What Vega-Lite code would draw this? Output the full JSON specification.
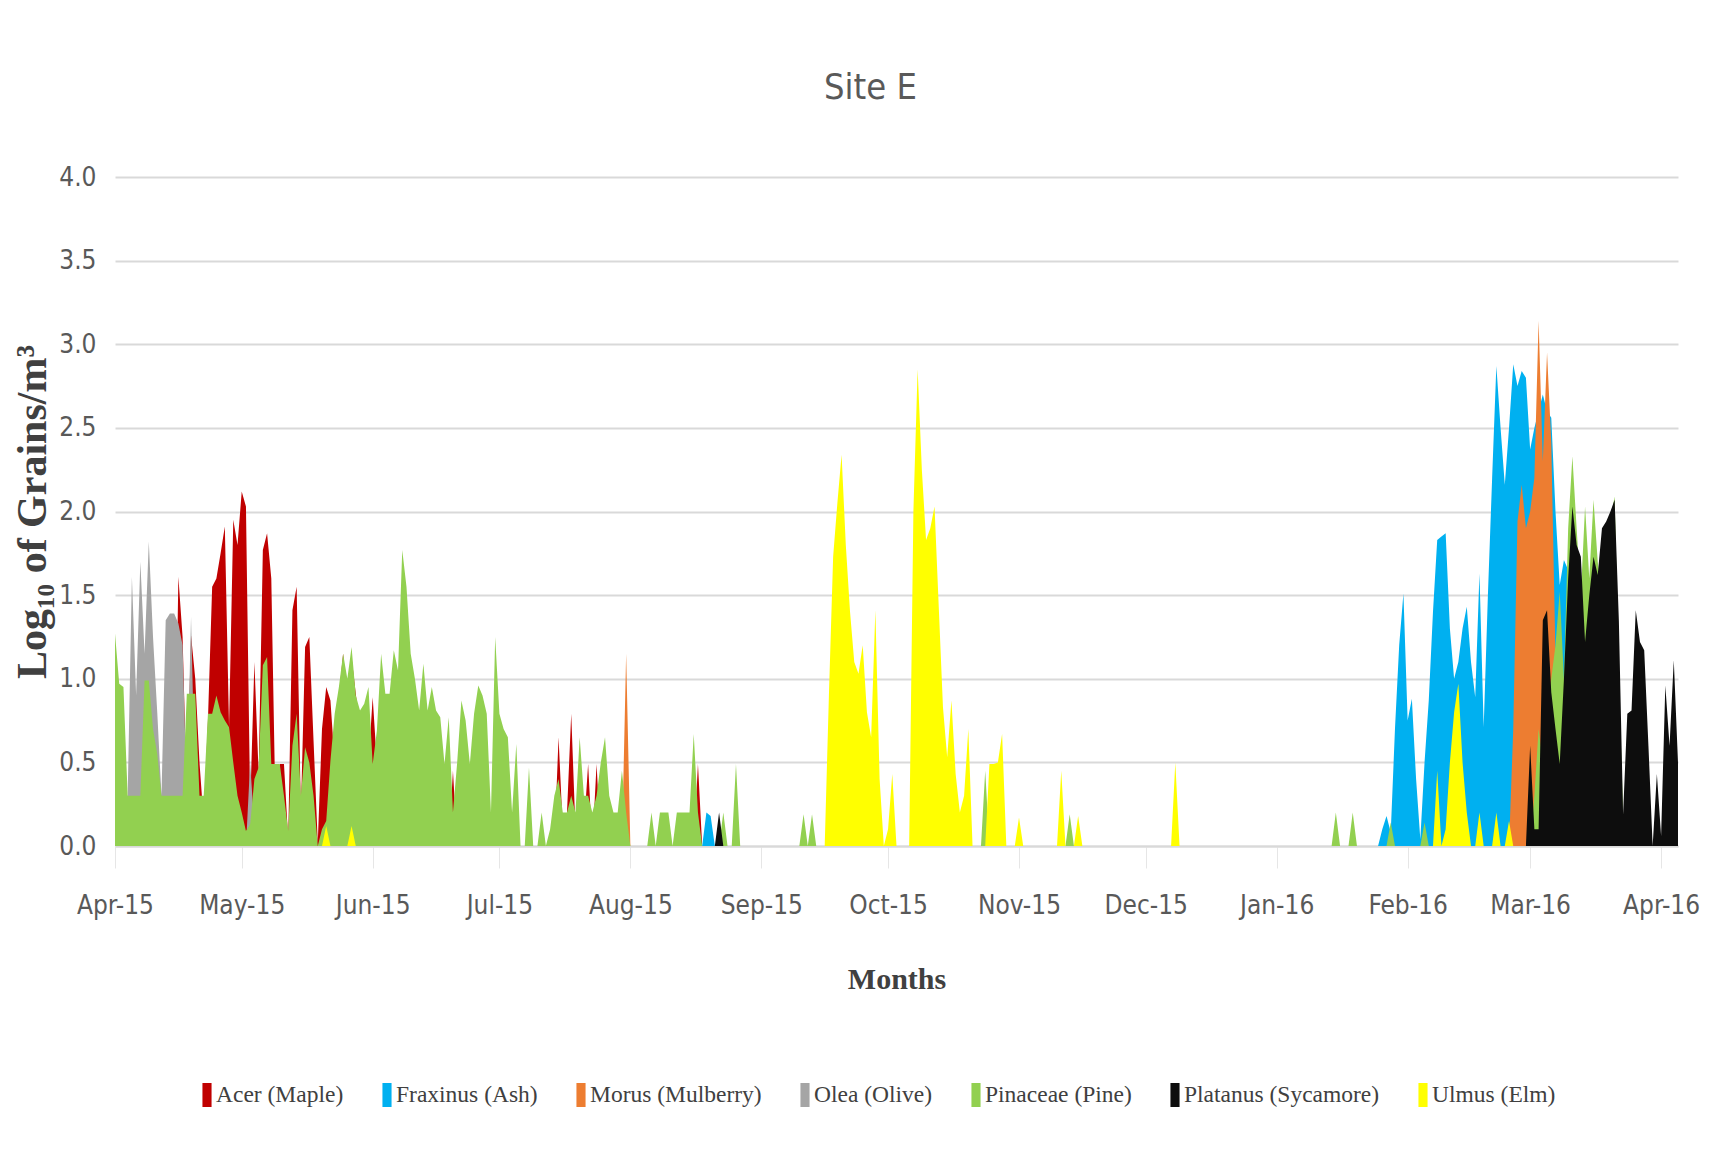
{
"$schema":"https://vega.github.io/schema/vega-lite/v6.json",
"width":1563,"height":669,
"autosize":{"type":"none"},
"padding":{"left":115,"top":177,"right":38,"bottom":310},
"background":"white",
"title":{"text":"Site E","fontSize":36,"font":"Liberation Sans Narrow, DejaVu Sans Condensed, sans-serif","color":"#595959","fontWeight":"normal","offset":57,"dx":-26},
"data":{"values":[
{"d":"2015-04-15","s":"Acer (Maple)","v":0},{"d":"2015-04-16","s":"Acer (Maple)","v":1.61},{"d":"2015-04-17","s":"Acer (Maple)","v":1.25},{"d":"2015-04-18","s":"Acer (Maple)","v":0.3},{"d":"2015-04-19","s":"Acer (Maple)","v":1.26},{"d":"2015-04-20","s":"Acer (Maple)","v":1.0},{"d":"2015-04-21","s":"Acer (Maple)","v":0.5},{"d":"2015-04-22","s":"Acer (Maple)","v":0.15},{"d":"2015-04-23","s":"Acer (Maple)","v":0.75},{"d":"2015-04-24","s":"Acer (Maple)","v":1.55},{"d":"2015-04-25","s":"Acer (Maple)","v":1.6},{"d":"2015-04-26","s":"Acer (Maple)","v":1.75},{"d":"2015-04-27","s":"Acer (Maple)","v":1.91},{"d":"2015-04-28","s":"Acer (Maple)","v":0.71},{"d":"2015-04-29","s":"Acer (Maple)","v":1.95},{"d":"2015-04-30","s":"Acer (Maple)","v":1.8},{"d":"2015-05-01","s":"Acer (Maple)","v":2.12},{"d":"2015-05-02","s":"Acer (Maple)","v":2.03},{"d":"2015-05-03","s":"Acer (Maple)","v":0.24},{"d":"2015-05-04","s":"Acer (Maple)","v":1.1},{"d":"2015-05-05","s":"Acer (Maple)","v":0.43},{"d":"2015-05-06","s":"Acer (Maple)","v":1.77},{"d":"2015-05-07","s":"Acer (Maple)","v":1.87},{"d":"2015-05-08","s":"Acer (Maple)","v":1.6},{"d":"2015-05-09","s":"Acer (Maple)","v":0.2},{"d":"2015-05-10","s":"Acer (Maple)","v":0.49},{"d":"2015-05-11","s":"Acer (Maple)","v":0.49},{"d":"2015-05-12","s":"Acer (Maple)","v":0.04},{"d":"2015-05-13","s":"Acer (Maple)","v":1.41},{"d":"2015-05-14","s":"Acer (Maple)","v":1.55},{"d":"2015-05-15","s":"Acer (Maple)","v":0.2},{"d":"2015-05-16","s":"Acer (Maple)","v":1.19},{"d":"2015-05-17","s":"Acer (Maple)","v":1.25},{"d":"2015-05-18","s":"Acer (Maple)","v":0.63},{"d":"2015-05-19","s":"Acer (Maple)","v":0.02},{"d":"2015-05-20","s":"Acer (Maple)","v":0.7},{"d":"2015-05-21","s":"Acer (Maple)","v":0.95},{"d":"2015-05-22","s":"Acer (Maple)","v":0.87},{"d":"2015-05-23","s":"Acer (Maple)","v":0.5},{"d":"2015-05-24","s":"Acer (Maple)","v":0.9},{"d":"2015-05-25","s":"Acer (Maple)","v":1.15},{"d":"2015-05-26","s":"Acer (Maple)","v":0.87},{"d":"2015-05-27","s":"Acer (Maple)","v":1.13},{"d":"2015-05-28","s":"Acer (Maple)","v":0.91},{"d":"2015-05-29","s":"Acer (Maple)","v":0.7},{"d":"2015-05-30","s":"Acer (Maple)","v":0.6},{"d":"2015-05-31","s":"Acer (Maple)","v":0.49},{"d":"2015-06-01","s":"Acer (Maple)","v":0.89},{"d":"2015-06-02","s":"Acer (Maple)","v":0.49},{"d":"2015-06-03","s":"Acer (Maple)","v":0},{"d":"2015-06-19","s":"Acer (Maple)","v":0},{"d":"2015-06-20","s":"Acer (Maple)","v":0.45},{"d":"2015-06-21","s":"Acer (Maple)","v":0},{"d":"2015-07-14","s":"Acer (Maple)","v":0},{"d":"2015-07-15","s":"Acer (Maple)","v":0.65},{"d":"2015-07-16","s":"Acer (Maple)","v":0.1},{"d":"2015-07-17","s":"Acer (Maple)","v":0.2},{"d":"2015-07-18","s":"Acer (Maple)","v":0.79},{"d":"2015-07-19","s":"Acer (Maple)","v":0.1},{"d":"2015-07-20","s":"Acer (Maple)","v":0},{"d":"2015-07-21","s":"Acer (Maple)","v":0.1},{"d":"2015-07-22","s":"Acer (Maple)","v":0.49},{"d":"2015-07-23","s":"Acer (Maple)","v":0},{"d":"2015-07-24","s":"Acer (Maple)","v":0.49},{"d":"2015-07-25","s":"Acer (Maple)","v":0},{"d":"2015-08-16","s":"Acer (Maple)","v":0},{"d":"2015-08-17","s":"Acer (Maple)","v":0.49},{"d":"2015-08-18","s":"Acer (Maple)","v":0},
{"d":"2015-08-18","s":"Fraxinus (Ash)","v":0},{"d":"2015-08-19","s":"Fraxinus (Ash)","v":0.2},{"d":"2015-08-20","s":"Fraxinus (Ash)","v":0.18},{"d":"2015-08-21","s":"Fraxinus (Ash)","v":0},{"d":"2016-01-25","s":"Fraxinus (Ash)","v":0},{"d":"2016-01-26","s":"Fraxinus (Ash)","v":0.1},{"d":"2016-01-27","s":"Fraxinus (Ash)","v":0.18},{"d":"2016-01-28","s":"Fraxinus (Ash)","v":0.08},{"d":"2016-01-29","s":"Fraxinus (Ash)","v":0.7},{"d":"2016-01-30","s":"Fraxinus (Ash)","v":1.2},{"d":"2016-01-31","s":"Fraxinus (Ash)","v":1.51},{"d":"2016-02-01","s":"Fraxinus (Ash)","v":0.75},{"d":"2016-02-02","s":"Fraxinus (Ash)","v":0.88},{"d":"2016-02-03","s":"Fraxinus (Ash)","v":0.4},{"d":"2016-02-04","s":"Fraxinus (Ash)","v":0.04},{"d":"2016-02-05","s":"Fraxinus (Ash)","v":0.5},{"d":"2016-02-06","s":"Fraxinus (Ash)","v":0.87},{"d":"2016-02-07","s":"Fraxinus (Ash)","v":1.4},{"d":"2016-02-08","s":"Fraxinus (Ash)","v":1.83},{"d":"2016-02-09","s":"Fraxinus (Ash)","v":1.85},{"d":"2016-02-10","s":"Fraxinus (Ash)","v":1.87},{"d":"2016-02-11","s":"Fraxinus (Ash)","v":1.3},{"d":"2016-02-12","s":"Fraxinus (Ash)","v":1.0},{"d":"2016-02-13","s":"Fraxinus (Ash)","v":1.1},{"d":"2016-02-14","s":"Fraxinus (Ash)","v":1.3},{"d":"2016-02-15","s":"Fraxinus (Ash)","v":1.43},{"d":"2016-02-16","s":"Fraxinus (Ash)","v":1.1},{"d":"2016-02-17","s":"Fraxinus (Ash)","v":0.89},{"d":"2016-02-18","s":"Fraxinus (Ash)","v":1.63},{"d":"2016-02-19","s":"Fraxinus (Ash)","v":0.71},{"d":"2016-02-20","s":"Fraxinus (Ash)","v":1.5},{"d":"2016-02-21","s":"Fraxinus (Ash)","v":2.2},{"d":"2016-02-22","s":"Fraxinus (Ash)","v":2.87},{"d":"2016-02-23","s":"Fraxinus (Ash)","v":2.5},{"d":"2016-02-24","s":"Fraxinus (Ash)","v":2.16},{"d":"2016-02-25","s":"Fraxinus (Ash)","v":2.5},{"d":"2016-02-26","s":"Fraxinus (Ash)","v":2.88},{"d":"2016-02-27","s":"Fraxinus (Ash)","v":2.75},{"d":"2016-02-28","s":"Fraxinus (Ash)","v":2.84},{"d":"2016-02-29","s":"Fraxinus (Ash)","v":2.8},{"d":"2016-03-01","s":"Fraxinus (Ash)","v":2.37},{"d":"2016-03-02","s":"Fraxinus (Ash)","v":2.5},{"d":"2016-03-03","s":"Fraxinus (Ash)","v":2.6},{"d":"2016-03-04","s":"Fraxinus (Ash)","v":2.7},{"d":"2016-03-05","s":"Fraxinus (Ash)","v":2.6},{"d":"2016-03-06","s":"Fraxinus (Ash)","v":2.56},{"d":"2016-03-07","s":"Fraxinus (Ash)","v":2.0},{"d":"2016-03-08","s":"Fraxinus (Ash)","v":1.56},{"d":"2016-03-09","s":"Fraxinus (Ash)","v":1.71},{"d":"2016-03-10","s":"Fraxinus (Ash)","v":1.65},{"d":"2016-03-11","s":"Fraxinus (Ash)","v":1.2},{"d":"2016-03-12","s":"Fraxinus (Ash)","v":0.5},{"d":"2016-03-13","s":"Fraxinus (Ash)","v":0},
{"d":"2015-07-30","s":"Morus (Mulberry)","v":0},{"d":"2015-07-31","s":"Morus (Mulberry)","v":1.15},{"d":"2015-08-01","s":"Morus (Mulberry)","v":0},{"d":"2016-02-25","s":"Morus (Mulberry)","v":0},{"d":"2016-02-26","s":"Morus (Mulberry)","v":0.7},{"d":"2016-02-27","s":"Morus (Mulberry)","v":1.94},{"d":"2016-02-28","s":"Morus (Mulberry)","v":2.16},{"d":"2016-02-29","s":"Morus (Mulberry)","v":1.9},{"d":"2016-03-01","s":"Morus (Mulberry)","v":2.0},{"d":"2016-03-02","s":"Morus (Mulberry)","v":2.2},{"d":"2016-03-03","s":"Morus (Mulberry)","v":3.14},{"d":"2016-03-04","s":"Morus (Mulberry)","v":2.3},{"d":"2016-03-05","s":"Morus (Mulberry)","v":2.95},{"d":"2016-03-06","s":"Morus (Mulberry)","v":2.41},{"d":"2016-03-07","s":"Morus (Mulberry)","v":1.13},{"d":"2016-03-08","s":"Morus (Mulberry)","v":0.7},{"d":"2016-03-09","s":"Morus (Mulberry)","v":0},
{"d":"2015-04-02","s":"Olea (Olive)","v":0},{"d":"2015-04-03","s":"Olea (Olive)","v":0.3},{"d":"2015-04-04","s":"Olea (Olive)","v":0.3},{"d":"2015-04-05","s":"Olea (Olive)","v":1.61},{"d":"2015-04-06","s":"Olea (Olive)","v":0.9},{"d":"2015-04-07","s":"Olea (Olive)","v":1.7},{"d":"2015-04-08","s":"Olea (Olive)","v":1.15},{"d":"2015-04-09","s":"Olea (Olive)","v":1.82},{"d":"2015-04-10","s":"Olea (Olive)","v":1.25},{"d":"2015-04-11","s":"Olea (Olive)","v":0.8},{"d":"2015-04-12","s":"Olea (Olive)","v":0.3},{"d":"2015-04-13","s":"Olea (Olive)","v":1.35},{"d":"2015-04-14","s":"Olea (Olive)","v":1.39},{"d":"2015-04-15","s":"Olea (Olive)","v":1.39},{"d":"2015-04-16","s":"Olea (Olive)","v":1.33},{"d":"2015-04-17","s":"Olea (Olive)","v":1.2},{"d":"2015-04-18","s":"Olea (Olive)","v":0.3},{"d":"2015-04-19","s":"Olea (Olive)","v":1.37},{"d":"2015-04-20","s":"Olea (Olive)","v":0.3},{"d":"2015-04-21","s":"Olea (Olive)","v":0.1},{"d":"2015-04-22","s":"Olea (Olive)","v":0},{"d":"2015-05-02","s":"Olea (Olive)","v":0},{"d":"2015-05-03","s":"Olea (Olive)","v":0.5},{"d":"2015-05-04","s":"Olea (Olive)","v":0.1},{"d":"2015-05-05","s":"Olea (Olive)","v":0},
{"d":"2015-04-01","s":"Pinaceae (Pine)","v":1.27},{"d":"2015-04-02","s":"Pinaceae (Pine)","v":0.97},{"d":"2015-04-03","s":"Pinaceae (Pine)","v":0.95},{"d":"2015-04-04","s":"Pinaceae (Pine)","v":0.3},{"d":"2015-04-05","s":"Pinaceae (Pine)","v":0.3},{"d":"2015-04-06","s":"Pinaceae (Pine)","v":0.3},{"d":"2015-04-07","s":"Pinaceae (Pine)","v":0.3},{"d":"2015-04-08","s":"Pinaceae (Pine)","v":0.99},{"d":"2015-04-09","s":"Pinaceae (Pine)","v":0.99},{"d":"2015-04-10","s":"Pinaceae (Pine)","v":0.7},{"d":"2015-04-11","s":"Pinaceae (Pine)","v":0.55},{"d":"2015-04-12","s":"Pinaceae (Pine)","v":0.3},{"d":"2015-04-13","s":"Pinaceae (Pine)","v":0.3},{"d":"2015-04-14","s":"Pinaceae (Pine)","v":0.3},{"d":"2015-04-15","s":"Pinaceae (Pine)","v":0.3},{"d":"2015-04-16","s":"Pinaceae (Pine)","v":0.3},{"d":"2015-04-17","s":"Pinaceae (Pine)","v":0.3},{"d":"2015-04-18","s":"Pinaceae (Pine)","v":0.91},{"d":"2015-04-19","s":"Pinaceae (Pine)","v":0.91},{"d":"2015-04-20","s":"Pinaceae (Pine)","v":0.91},{"d":"2015-04-21","s":"Pinaceae (Pine)","v":0.3},{"d":"2015-04-22","s":"Pinaceae (Pine)","v":0.3},{"d":"2015-04-23","s":"Pinaceae (Pine)","v":0.79},{"d":"2015-04-24","s":"Pinaceae (Pine)","v":0.79},{"d":"2015-04-25","s":"Pinaceae (Pine)","v":0.9},{"d":"2015-04-26","s":"Pinaceae (Pine)","v":0.8},{"d":"2015-04-27","s":"Pinaceae (Pine)","v":0.75},{"d":"2015-04-28","s":"Pinaceae (Pine)","v":0.71},{"d":"2015-04-29","s":"Pinaceae (Pine)","v":0.5},{"d":"2015-04-30","s":"Pinaceae (Pine)","v":0.3},{"d":"2015-05-01","s":"Pinaceae (Pine)","v":0.2},{"d":"2015-05-02","s":"Pinaceae (Pine)","v":0.09},{"d":"2015-05-03","s":"Pinaceae (Pine)","v":0.13},{"d":"2015-05-04","s":"Pinaceae (Pine)","v":0.4},{"d":"2015-05-05","s":"Pinaceae (Pine)","v":0.47},{"d":"2015-05-06","s":"Pinaceae (Pine)","v":1.08},{"d":"2015-05-07","s":"Pinaceae (Pine)","v":1.13},{"d":"2015-05-08","s":"Pinaceae (Pine)","v":0.49},{"d":"2015-05-09","s":"Pinaceae (Pine)","v":0.49},{"d":"2015-05-10","s":"Pinaceae (Pine)","v":0.49},{"d":"2015-05-11","s":"Pinaceae (Pine)","v":0.3},{"d":"2015-05-12","s":"Pinaceae (Pine)","v":0.09},{"d":"2015-05-13","s":"Pinaceae (Pine)","v":0.6},{"d":"2015-05-14","s":"Pinaceae (Pine)","v":0.79},{"d":"2015-05-15","s":"Pinaceae (Pine)","v":0.3},{"d":"2015-05-16","s":"Pinaceae (Pine)","v":0.59},{"d":"2015-05-17","s":"Pinaceae (Pine)","v":0.5},{"d":"2015-05-18","s":"Pinaceae (Pine)","v":0.3},{"d":"2015-05-19","s":"Pinaceae (Pine)","v":0},{"d":"2015-05-20","s":"Pinaceae (Pine)","v":0.1},{"d":"2015-05-21","s":"Pinaceae (Pine)","v":0.15},{"d":"2015-05-22","s":"Pinaceae (Pine)","v":0.51},{"d":"2015-05-23","s":"Pinaceae (Pine)","v":0.79},{"d":"2015-05-24","s":"Pinaceae (Pine)","v":0.95},{"d":"2015-05-25","s":"Pinaceae (Pine)","v":1.15},{"d":"2015-05-26","s":"Pinaceae (Pine)","v":1.0},{"d":"2015-05-27","s":"Pinaceae (Pine)","v":1.19},{"d":"2015-05-28","s":"Pinaceae (Pine)","v":0.9},{"d":"2015-05-29","s":"Pinaceae (Pine)","v":0.81},{"d":"2015-05-30","s":"Pinaceae (Pine)","v":0.85},{"d":"2015-05-31","s":"Pinaceae (Pine)","v":0.95},{"d":"2015-06-01","s":"Pinaceae (Pine)","v":0.49},{"d":"2015-06-02","s":"Pinaceae (Pine)","v":0.69},{"d":"2015-06-03","s":"Pinaceae (Pine)","v":1.15},{"d":"2015-06-04","s":"Pinaceae (Pine)","v":0.91},{"d":"2015-06-05","s":"Pinaceae (Pine)","v":0.91},{"d":"2015-06-06","s":"Pinaceae (Pine)","v":1.17},{"d":"2015-06-07","s":"Pinaceae (Pine)","v":1.05},{"d":"2015-06-08","s":"Pinaceae (Pine)","v":1.77},{"d":"2015-06-09","s":"Pinaceae (Pine)","v":1.55},{"d":"2015-06-10","s":"Pinaceae (Pine)","v":1.15},{"d":"2015-06-11","s":"Pinaceae (Pine)","v":1.0},{"d":"2015-06-12","s":"Pinaceae (Pine)","v":0.81},{"d":"2015-06-13","s":"Pinaceae (Pine)","v":1.09},{"d":"2015-06-14","s":"Pinaceae (Pine)","v":0.81},{"d":"2015-06-15","s":"Pinaceae (Pine)","v":0.95},{"d":"2015-06-16","s":"Pinaceae (Pine)","v":0.81},{"d":"2015-06-17","s":"Pinaceae (Pine)","v":0.77},{"d":"2015-06-18","s":"Pinaceae (Pine)","v":0.49},{"d":"2015-06-19","s":"Pinaceae (Pine)","v":0.77},{"d":"2015-06-20","s":"Pinaceae (Pine)","v":0.2},{"d":"2015-06-21","s":"Pinaceae (Pine)","v":0.5},{"d":"2015-06-22","s":"Pinaceae (Pine)","v":0.87},{"d":"2015-06-23","s":"Pinaceae (Pine)","v":0.75},{"d":"2015-06-24","s":"Pinaceae (Pine)","v":0.49},{"d":"2015-06-25","s":"Pinaceae (Pine)","v":0.79},{"d":"2015-06-26","s":"Pinaceae (Pine)","v":0.96},{"d":"2015-06-27","s":"Pinaceae (Pine)","v":0.9},{"d":"2015-06-28","s":"Pinaceae (Pine)","v":0.79},{"d":"2015-06-29","s":"Pinaceae (Pine)","v":0.2},{"d":"2015-06-30","s":"Pinaceae (Pine)","v":1.25},{"d":"2015-07-01","s":"Pinaceae (Pine)","v":0.79},{"d":"2015-07-02","s":"Pinaceae (Pine)","v":0.7},{"d":"2015-07-03","s":"Pinaceae (Pine)","v":0.65},{"d":"2015-07-04","s":"Pinaceae (Pine)","v":0.2},{"d":"2015-07-05","s":"Pinaceae (Pine)","v":0.61},{"d":"2015-07-06","s":"Pinaceae (Pine)","v":0},{"d":"2015-07-07","s":"Pinaceae (Pine)","v":0},{"d":"2015-07-08","s":"Pinaceae (Pine)","v":0.47},{"d":"2015-07-09","s":"Pinaceae (Pine)","v":0},{"d":"2015-07-10","s":"Pinaceae (Pine)","v":0},{"d":"2015-07-11","s":"Pinaceae (Pine)","v":0.2},{"d":"2015-07-12","s":"Pinaceae (Pine)","v":0},{"d":"2015-07-13","s":"Pinaceae (Pine)","v":0.1},{"d":"2015-07-14","s":"Pinaceae (Pine)","v":0.3},{"d":"2015-07-15","s":"Pinaceae (Pine)","v":0.4},{"d":"2015-07-16","s":"Pinaceae (Pine)","v":0.2},{"d":"2015-07-17","s":"Pinaceae (Pine)","v":0.2},{"d":"2015-07-18","s":"Pinaceae (Pine)","v":0.3},{"d":"2015-07-19","s":"Pinaceae (Pine)","v":0.2},{"d":"2015-07-20","s":"Pinaceae (Pine)","v":0.65},{"d":"2015-07-21","s":"Pinaceae (Pine)","v":0.3},{"d":"2015-07-22","s":"Pinaceae (Pine)","v":0.3},{"d":"2015-07-23","s":"Pinaceae (Pine)","v":0.2},{"d":"2015-07-24","s":"Pinaceae (Pine)","v":0.3},{"d":"2015-07-25","s":"Pinaceae (Pine)","v":0.5},{"d":"2015-07-26","s":"Pinaceae (Pine)","v":0.65},{"d":"2015-07-27","s":"Pinaceae (Pine)","v":0.3},{"d":"2015-07-28","s":"Pinaceae (Pine)","v":0.2},{"d":"2015-07-29","s":"Pinaceae (Pine)","v":0.2},{"d":"2015-07-30","s":"Pinaceae (Pine)","v":0.45},{"d":"2015-07-31","s":"Pinaceae (Pine)","v":0.2},{"d":"2015-08-01","s":"Pinaceae (Pine)","v":0},{"d":"2015-08-05","s":"Pinaceae (Pine)","v":0},{"d":"2015-08-06","s":"Pinaceae (Pine)","v":0.2},{"d":"2015-08-07","s":"Pinaceae (Pine)","v":0},{"d":"2015-08-08","s":"Pinaceae (Pine)","v":0.2},{"d":"2015-08-09","s":"Pinaceae (Pine)","v":0.2},{"d":"2015-08-10","s":"Pinaceae (Pine)","v":0.2},{"d":"2015-08-11","s":"Pinaceae (Pine)","v":0},{"d":"2015-08-12","s":"Pinaceae (Pine)","v":0.2},{"d":"2015-08-13","s":"Pinaceae (Pine)","v":0.2},{"d":"2015-08-14","s":"Pinaceae (Pine)","v":0.2},{"d":"2015-08-15","s":"Pinaceae (Pine)","v":0.2},{"d":"2015-08-16","s":"Pinaceae (Pine)","v":0.67},{"d":"2015-08-17","s":"Pinaceae (Pine)","v":0.2},{"d":"2015-08-18","s":"Pinaceae (Pine)","v":0},{"d":"2015-08-22","s":"Pinaceae (Pine)","v":0},{"d":"2015-08-23","s":"Pinaceae (Pine)","v":0.2},{"d":"2015-08-24","s":"Pinaceae (Pine)","v":0},{"d":"2015-08-25","s":"Pinaceae (Pine)","v":0},{"d":"2015-08-26","s":"Pinaceae (Pine)","v":0.49},{"d":"2015-08-27","s":"Pinaceae (Pine)","v":0},{"d":"2015-09-10","s":"Pinaceae (Pine)","v":0},{"d":"2015-09-11","s":"Pinaceae (Pine)","v":0.19},{"d":"2015-09-12","s":"Pinaceae (Pine)","v":0},{"d":"2015-09-13","s":"Pinaceae (Pine)","v":0.19},{"d":"2015-09-14","s":"Pinaceae (Pine)","v":0},{"d":"2015-10-23","s":"Pinaceae (Pine)","v":0},{"d":"2015-10-24","s":"Pinaceae (Pine)","v":0.45},{"d":"2015-10-25","s":"Pinaceae (Pine)","v":0},{"d":"2015-11-12","s":"Pinaceae (Pine)","v":0},{"d":"2015-11-13","s":"Pinaceae (Pine)","v":0.19},{"d":"2015-11-14","s":"Pinaceae (Pine)","v":0},{"d":"2016-01-14","s":"Pinaceae (Pine)","v":0},{"d":"2016-01-15","s":"Pinaceae (Pine)","v":0.2},{"d":"2016-01-16","s":"Pinaceae (Pine)","v":0},{"d":"2016-01-18","s":"Pinaceae (Pine)","v":0},{"d":"2016-01-19","s":"Pinaceae (Pine)","v":0.2},{"d":"2016-01-20","s":"Pinaceae (Pine)","v":0},{"d":"2016-01-27","s":"Pinaceae (Pine)","v":0},{"d":"2016-01-28","s":"Pinaceae (Pine)","v":0.14},{"d":"2016-01-29","s":"Pinaceae (Pine)","v":0},{"d":"2016-02-04","s":"Pinaceae (Pine)","v":0},{"d":"2016-02-05","s":"Pinaceae (Pine)","v":0.14},{"d":"2016-02-06","s":"Pinaceae (Pine)","v":0},{"d":"2016-03-01","s":"Pinaceae (Pine)","v":0},{"d":"2016-03-02","s":"Pinaceae (Pine)","v":0.3},{"d":"2016-03-03","s":"Pinaceae (Pine)","v":0.7},{"d":"2016-03-04","s":"Pinaceae (Pine)","v":0.5},{"d":"2016-03-05","s":"Pinaceae (Pine)","v":0.8},{"d":"2016-03-06","s":"Pinaceae (Pine)","v":1.0},{"d":"2016-03-07","s":"Pinaceae (Pine)","v":1.2},{"d":"2016-03-08","s":"Pinaceae (Pine)","v":1.52},{"d":"2016-03-09","s":"Pinaceae (Pine)","v":1.0},{"d":"2016-03-10","s":"Pinaceae (Pine)","v":1.9},{"d":"2016-03-11","s":"Pinaceae (Pine)","v":2.33},{"d":"2016-03-12","s":"Pinaceae (Pine)","v":1.9},{"d":"2016-03-13","s":"Pinaceae (Pine)","v":1.5},{"d":"2016-03-14","s":"Pinaceae (Pine)","v":2.03},{"d":"2016-03-15","s":"Pinaceae (Pine)","v":1.6},{"d":"2016-03-16","s":"Pinaceae (Pine)","v":2.07},{"d":"2016-03-17","s":"Pinaceae (Pine)","v":1.7},{"d":"2016-03-18","s":"Pinaceae (Pine)","v":1.5},{"d":"2016-03-19","s":"Pinaceae (Pine)","v":1.8},{"d":"2016-03-20","s":"Pinaceae (Pine)","v":1.95},{"d":"2016-03-21","s":"Pinaceae (Pine)","v":2.09},{"d":"2016-03-22","s":"Pinaceae (Pine)","v":1.0},{"d":"2016-03-23","s":"Pinaceae (Pine)","v":0.2},{"d":"2016-03-24","s":"Pinaceae (Pine)","v":0},
{"d":"2015-08-21","s":"Platanus (Sycamore)","v":0},{"d":"2015-08-22","s":"Platanus (Sycamore)","v":0.2},{"d":"2015-08-23","s":"Platanus (Sycamore)","v":0},{"d":"2016-02-29","s":"Platanus (Sycamore)","v":0},{"d":"2016-03-01","s":"Platanus (Sycamore)","v":0.6},{"d":"2016-03-02","s":"Platanus (Sycamore)","v":0.1},{"d":"2016-03-03","s":"Platanus (Sycamore)","v":0.1},{"d":"2016-03-04","s":"Platanus (Sycamore)","v":1.35},{"d":"2016-03-05","s":"Platanus (Sycamore)","v":1.41},{"d":"2016-03-06","s":"Platanus (Sycamore)","v":0.92},{"d":"2016-03-07","s":"Platanus (Sycamore)","v":0.7},{"d":"2016-03-08","s":"Platanus (Sycamore)","v":0.49},{"d":"2016-03-09","s":"Platanus (Sycamore)","v":1.0},{"d":"2016-03-10","s":"Platanus (Sycamore)","v":1.6},{"d":"2016-03-11","s":"Platanus (Sycamore)","v":2.03},{"d":"2016-03-12","s":"Platanus (Sycamore)","v":1.8},{"d":"2016-03-13","s":"Platanus (Sycamore)","v":1.73},{"d":"2016-03-14","s":"Platanus (Sycamore)","v":1.22},{"d":"2016-03-15","s":"Platanus (Sycamore)","v":1.5},{"d":"2016-03-16","s":"Platanus (Sycamore)","v":1.73},{"d":"2016-03-17","s":"Platanus (Sycamore)","v":1.62},{"d":"2016-03-18","s":"Platanus (Sycamore)","v":1.9},{"d":"2016-03-19","s":"Platanus (Sycamore)","v":1.94},{"d":"2016-03-20","s":"Platanus (Sycamore)","v":2.0},{"d":"2016-03-21","s":"Platanus (Sycamore)","v":2.07},{"d":"2016-03-22","s":"Platanus (Sycamore)","v":1.35},{"d":"2016-03-23","s":"Platanus (Sycamore)","v":0.19},{"d":"2016-03-24","s":"Platanus (Sycamore)","v":0.79},{"d":"2016-03-25","s":"Platanus (Sycamore)","v":0.81},{"d":"2016-03-26","s":"Platanus (Sycamore)","v":1.41},{"d":"2016-03-27","s":"Platanus (Sycamore)","v":1.22},{"d":"2016-03-28","s":"Platanus (Sycamore)","v":1.17},{"d":"2016-03-29","s":"Platanus (Sycamore)","v":0.6},{"d":"2016-03-30","s":"Platanus (Sycamore)","v":0},{"d":"2016-03-31","s":"Platanus (Sycamore)","v":0.43},{"d":"2016-04-01","s":"Platanus (Sycamore)","v":0.06},{"d":"2016-04-02","s":"Platanus (Sycamore)","v":0.96},{"d":"2016-04-03","s":"Platanus (Sycamore)","v":0.6},{"d":"2016-04-04","s":"Platanus (Sycamore)","v":1.11},{"d":"2016-04-05","s":"Platanus (Sycamore)","v":0.5},
{"d":"2015-05-20","s":"Ulmus (Elm)","v":0},{"d":"2015-05-21","s":"Ulmus (Elm)","v":0.12},{"d":"2015-05-22","s":"Ulmus (Elm)","v":0},{"d":"2015-05-26","s":"Ulmus (Elm)","v":0},{"d":"2015-05-27","s":"Ulmus (Elm)","v":0.12},{"d":"2015-05-28","s":"Ulmus (Elm)","v":0},{"d":"2015-09-16","s":"Ulmus (Elm)","v":0},{"d":"2015-09-17","s":"Ulmus (Elm)","v":0.9},{"d":"2015-09-18","s":"Ulmus (Elm)","v":1.73},{"d":"2015-09-19","s":"Ulmus (Elm)","v":2.05},{"d":"2015-09-20","s":"Ulmus (Elm)","v":2.34},{"d":"2015-09-21","s":"Ulmus (Elm)","v":1.8},{"d":"2015-09-22","s":"Ulmus (Elm)","v":1.4},{"d":"2015-09-23","s":"Ulmus (Elm)","v":1.1},{"d":"2015-09-24","s":"Ulmus (Elm)","v":1.03},{"d":"2015-09-25","s":"Ulmus (Elm)","v":1.2},{"d":"2015-09-26","s":"Ulmus (Elm)","v":0.8},{"d":"2015-09-27","s":"Ulmus (Elm)","v":0.65},{"d":"2015-09-28","s":"Ulmus (Elm)","v":1.41},{"d":"2015-09-29","s":"Ulmus (Elm)","v":0.4},{"d":"2015-09-30","s":"Ulmus (Elm)","v":0},{"d":"2015-10-01","s":"Ulmus (Elm)","v":0.1},{"d":"2015-10-02","s":"Ulmus (Elm)","v":0.43},{"d":"2015-10-03","s":"Ulmus (Elm)","v":0},{"d":"2015-10-06","s":"Ulmus (Elm)","v":0},{"d":"2015-10-07","s":"Ulmus (Elm)","v":2.0},{"d":"2015-10-08","s":"Ulmus (Elm)","v":2.85},{"d":"2015-10-09","s":"Ulmus (Elm)","v":2.25},{"d":"2015-10-10","s":"Ulmus (Elm)","v":1.83},{"d":"2015-10-11","s":"Ulmus (Elm)","v":1.9},{"d":"2015-10-12","s":"Ulmus (Elm)","v":2.03},{"d":"2015-10-13","s":"Ulmus (Elm)","v":1.43},{"d":"2015-10-14","s":"Ulmus (Elm)","v":0.83},{"d":"2015-10-15","s":"Ulmus (Elm)","v":0.53},{"d":"2015-10-16","s":"Ulmus (Elm)","v":0.87},{"d":"2015-10-17","s":"Ulmus (Elm)","v":0.43},{"d":"2015-10-18","s":"Ulmus (Elm)","v":0.2},{"d":"2015-10-19","s":"Ulmus (Elm)","v":0.3},{"d":"2015-10-20","s":"Ulmus (Elm)","v":0.7},{"d":"2015-10-21","s":"Ulmus (Elm)","v":0},{"d":"2015-10-24","s":"Ulmus (Elm)","v":0},{"d":"2015-10-25","s":"Ulmus (Elm)","v":0.49},{"d":"2015-10-26","s":"Ulmus (Elm)","v":0.49},{"d":"2015-10-27","s":"Ulmus (Elm)","v":0.5},{"d":"2015-10-28","s":"Ulmus (Elm)","v":0.67},{"d":"2015-10-29","s":"Ulmus (Elm)","v":0},{"d":"2015-10-31","s":"Ulmus (Elm)","v":0},{"d":"2015-11-01","s":"Ulmus (Elm)","v":0.17},{"d":"2015-11-02","s":"Ulmus (Elm)","v":0},{"d":"2015-11-10","s":"Ulmus (Elm)","v":0},{"d":"2015-11-11","s":"Ulmus (Elm)","v":0.45},{"d":"2015-11-12","s":"Ulmus (Elm)","v":0},{"d":"2015-11-14","s":"Ulmus (Elm)","v":0},{"d":"2015-11-15","s":"Ulmus (Elm)","v":0.18},{"d":"2015-11-16","s":"Ulmus (Elm)","v":0},{"d":"2015-12-07","s":"Ulmus (Elm)","v":0},{"d":"2015-12-08","s":"Ulmus (Elm)","v":0.5},{"d":"2015-12-09","s":"Ulmus (Elm)","v":0},{"d":"2016-02-07","s":"Ulmus (Elm)","v":0},{"d":"2016-02-08","s":"Ulmus (Elm)","v":0.45},{"d":"2016-02-09","s":"Ulmus (Elm)","v":0},{"d":"2016-02-10","s":"Ulmus (Elm)","v":0.1},{"d":"2016-02-11","s":"Ulmus (Elm)","v":0.5},{"d":"2016-02-12","s":"Ulmus (Elm)","v":0.8},{"d":"2016-02-13","s":"Ulmus (Elm)","v":0.97},{"d":"2016-02-14","s":"Ulmus (Elm)","v":0.5},{"d":"2016-02-15","s":"Ulmus (Elm)","v":0.2},{"d":"2016-02-16","s":"Ulmus (Elm)","v":0},{"d":"2016-02-17","s":"Ulmus (Elm)","v":0},{"d":"2016-02-18","s":"Ulmus (Elm)","v":0.2},{"d":"2016-02-19","s":"Ulmus (Elm)","v":0},{"d":"2016-02-21","s":"Ulmus (Elm)","v":0},{"d":"2016-02-22","s":"Ulmus (Elm)","v":0.2},{"d":"2016-02-23","s":"Ulmus (Elm)","v":0},{"d":"2016-02-24","s":"Ulmus (Elm)","v":0},{"d":"2016-02-25","s":"Ulmus (Elm)","v":0.15},{"d":"2016-02-26","s":"Ulmus (Elm)","v":0}
]},
"encoding":{
"x":{"field":"d","type":"temporal","title":"Months",
"scale":{"type":"utc","domain":[{"year":2015,"month":4,"date":1,"utc":true},{"year":2016,"month":4,"date":5,"utc":true}]},
"axis":{"format":"%b-%y","tickCount":{"interval":"month","step":1},"labelFont":"Liberation Sans Narrow, DejaVu Sans Condensed, sans-serif","labelFontSize":26,"labelColor":"#595959","labelPadding":24,"tickSize":22,"tickColor":"#e6e6e6","tickWidth":1,"domainColor":"#d9d9d9","domainWidth":2,"grid":false,"labelOverlap":false,"labelFlush":false,"labelBound":false,"titleFont":"Liberation Serif, serif","titleFontWeight":"bold","titleFontSize":30,"titleColor":"#404040","titlePadding":46}},
"y":{"field":"v","type":"quantitative","stack":null,"title":"Log₁₀ of Grains/m³",
"scale":{"domain":[0,4],"nice":false},
"axis":{"values":[0,0.5,1,1.5,2,2.5,3,3.5,4],"format":".1f","grid":true,"gridColor":"#d9d9d9","gridWidth":2,"domain":false,"ticks":false,"labelFont":"Liberation Sans Narrow, DejaVu Sans Condensed, sans-serif","labelFontSize":26,"labelColor":"#595959","labelPadding":19,"titleFont":"Liberation Serif, serif","titleFontWeight":"bold","titleFontSize":42,"titleColor":"#404040","titlePadding":4}},
"color":{"field":"s","type":"nominal",
"scale":{"domain":["Acer (Maple)","Fraxinus (Ash)","Morus (Mulberry)","Olea (Olive)","Pinaceae (Pine)","Platanus (Sycamore)","Ulmus (Elm)"],"range":["#c00000","#00b0f0","#ed7d31","#a5a5a5","#92d050","#0d0d0d","#ffff00"]},
"legend":{"orient":"none","legendX":80,"legendY":906,"direction":"horizontal","title":null,"symbolType":"M-0.38,-1L0.38,-1L0.38,1L-0.38,1Z","symbolSize":576,"symbolStrokeWidth":0,"symbolOpacity":1,"labelFont":"Liberation Serif, serif","labelFontSize":23.5,"labelColor":"#404040","columnPadding":31,"labelOffset":-3,"labelLimit":400}}
},
"layer":[
{"transform":[{"filter":{"field":"s","equal":"Acer (Maple)"}}],"mark":{"type":"area","interpolate":"linear","opacity":1}},
{"transform":[{"filter":{"field":"s","equal":"Fraxinus (Ash)"}}],"mark":{"type":"area","interpolate":"linear","opacity":1}},
{"transform":[{"filter":{"field":"s","equal":"Morus (Mulberry)"}}],"mark":{"type":"area","interpolate":"linear","opacity":1}},
{"transform":[{"filter":{"field":"s","equal":"Olea (Olive)"}}],"mark":{"type":"area","interpolate":"linear","opacity":1}},
{"transform":[{"filter":{"field":"s","equal":"Pinaceae (Pine)"}}],"mark":{"type":"area","interpolate":"linear","opacity":1}},
{"transform":[{"filter":{"field":"s","equal":"Platanus (Sycamore)"}}],"mark":{"type":"area","interpolate":"linear","opacity":1}},
{"transform":[{"filter":{"field":"s","equal":"Ulmus (Elm)"}}],"mark":{"type":"area","interpolate":"linear","opacity":1}}
],
"config":{"view":{"stroke":null}}
}
